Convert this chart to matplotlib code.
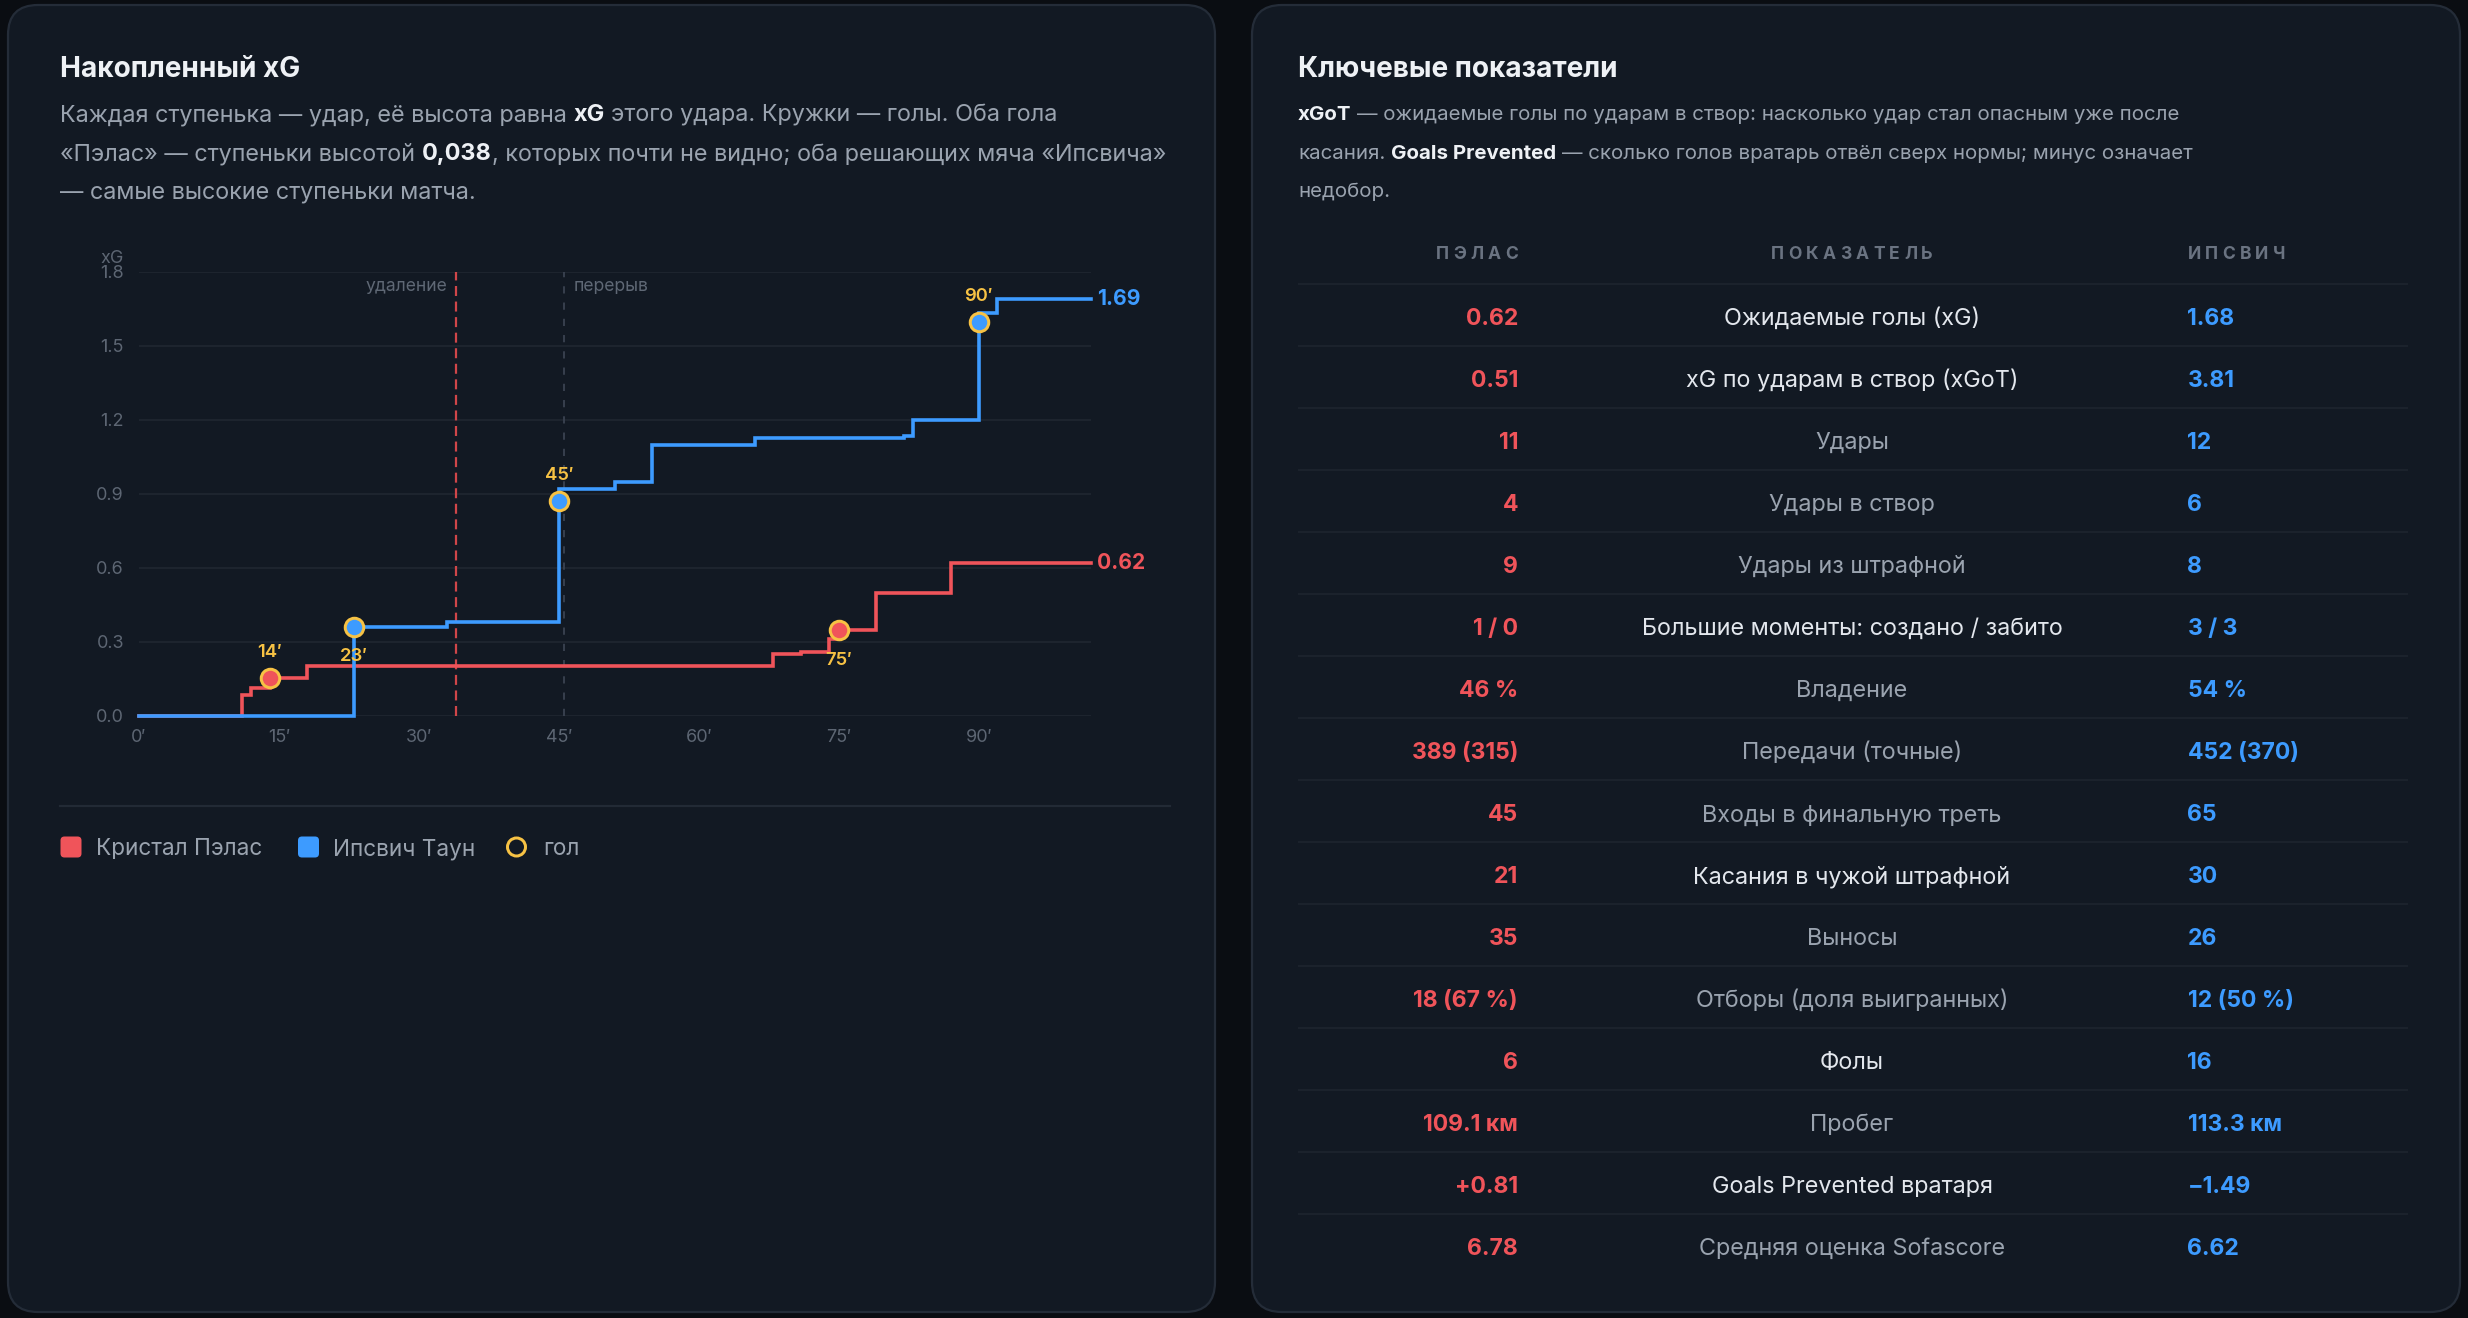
import numpy as np
import matplotlib
matplotlib.use("Agg")
import matplotlib.pyplot as plt
from matplotlib.patches import FancyBboxPatch, Circle

# ---------------- data ----------------
pal_minutes = [11, 12, 14, 18, 68, 71, 74, 75, 79, 87]
pal_xg      = [0.084, 0.029, 0.038, 0.052, 0.049, 0.006, 0.051, 0.038, 0.151, 0.12]
pal_goals   = [2, 7]                      # indices of goal shots
ips_minutes = [23, 33, 45, 45, 51, 55, 66, 82, 83, 90, 90, 92]
ips_xg      = [0.36, 0.02, 0.49, 0.048, 0.031, 0.148, 0.028, 0.008, 0.065, 0.40, 0.033, 0.057]
ips_goals   = [0, 2, 9]
goal_label_above = {("pal", 2): True, ("pal", 7): False,
                    ("ips", 0): False, ("ips", 2): True, ("ips", 9): True}
red_card_min = 34
half_time_min = 45.5
match_end = 102
x_tick_minutes = [0, 15, 30, 45, 60, 75, 90]
y_ticks = [0.0, 0.3, 0.6, 0.9, 1.2, 1.5, 1.8]

stat_labels = ["Ожидаемые голы (xG)", "xG по ударам в створ (xGoT)", "Удары", "Удары в створ",
               "Удары из штрафной", "Большие моменты: создано / забито", "Владение",
               "Передачи (точные)", "Входы в финальную треть", "Касания в чужой штрафной",
               "Выносы", "Отборы (доля выигранных)", "Фолы", "Пробег",
               "Goals Prevented вратаря", "Средняя оценка Sofascore"]
pal_vals = ["0.62", "0.51", "11", "4", "9", "1 / 0", "46 %", "389 (315)", "45", "21", "35",
            "18 (67 %)", "6", "109.1 км", "+0.81", "6.78"]
ips_vals = ["1.68", "3.81", "12", "6", "8", "3 / 3", "54 %", "452 (370)", "65", "30", "26",
            "12 (50 %)", "16", "113.3 км", "−1.49", "6.62"]
stat_bright = [True, True, False, False, False, True, False, False, False, True, False,
               False, True, False, True, False]

# ---------------- style ----------------
FONT = ["Inter", "DejaVu Sans"]
BG = "#0a0d12"
PANEL = "#121923"
PANEL_EDGE = "#242c38"
RED = "#f0545a"
BLUE = "#3d9bff"
GOLD = "#f7c244"
TXT_WHITE = "#eef1f5"
TXT_GRAY = "#9aa3af"
TICK = "#5d6673"
GRID = "#1d242e"

W, H = 2468, 1318
def pt(pxv):
    return pxv * 0.72

fig = plt.figure(figsize=(W / 100, H / 100), dpi=100)
fig.patch.set_facecolor(BG)
ov = fig.add_axes([0, 0, 1, 1], zorder=0)
ov.set_xlim(0, W)
ov.set_ylim(H, 0)
ov.axis("off")
renderer = fig.canvas.get_renderer()

for (x0, x1) in [(8, 1215), (1252, 2460)]:
    ov.add_patch(FancyBboxPatch((x0, 5), x1 - x0, 1307,
                                boxstyle="round,pad=0,rounding_size=30",
                                fc=PANEL, ec=PANEL_EDGE, lw=1.6))

_space_cache = {}
def space_w(size, bold):
    key = (size, bold)
    if key not in _space_cache:
        w = []
        for s in ["x x", "xx"]:
            t = ov.text(0, 0, s, fontsize=pt(size), fontweight="bold" if bold else "normal",
                        family=FONT)
            w.append(t.get_window_extent(renderer).width)
            t.remove()
        _space_cache[key] = w[0] - w[1]
    return _space_cache[key]

def rich(x, yc, segs, size, base=TXT_GRAY, strong=TXT_WHITE):
    yb = yc + 0.36 * size
    for s, b in segs:
        lead = len(s) - len(s.lstrip(" "))
        trail = len(s) - len(s.rstrip(" "))
        core = s.strip(" ")
        x += lead * space_w(size, b)
        t = ov.text(x, yb, core, fontsize=pt(size), fontweight="bold" if b else "normal",
                    color=strong if b else base, family=FONT, ha="left", va="baseline")
        x += t.get_window_extent(renderer).width
        x += trail * space_w(size, b)

def spaced(x, yc, s, size, color, align, spacing):
    yb = yc + 0.36 * size
    widths = []
    for ch in s:
        t = ov.text(0, 0, ch, fontsize=pt(size), fontweight="bold", family=FONT)
        widths.append(t.get_window_extent(renderer).width)
        t.remove()
    total = sum(widths) + spacing * (len(s) - 1)
    if align == "right":
        x = x - total
    elif align == "center":
        x = x - total / 2
    for ch, w in zip(s, widths):
        ov.text(x, yb, ch, fontsize=pt(size), fontweight="bold", color=color,
                family=FONT, ha="left", va="baseline")
        x += w + spacing

# ---------------- left panel header ----------------
ov.text(60, 66.7 + 0.36 * 28, "Накопленный xG", fontsize=pt(28), fontweight="bold",
        color=TXT_WHITE, family=FONT, va="baseline")
SUB_L = 23.4
rich(60, 113, [("Каждая ступенька — удар, её высота равна ", False), ("xG", True),
               (" этого удара. Кружки — голы. Оба гола", False)], SUB_L)
rich(60, 152, [("«Пэлас» — ступеньки высотой ", False), ("0,038", True),
               (", которых почти не видно; оба решающих мяча «Ипсвича»", False)], SUB_L)
rich(60, 190, [("— самые высокие ступеньки матча.", False)], SUB_L)

# ---------------- chart ----------------
ax_l, ax_r, ax_t, ax_b = 139, 1090.7, 271.7, 715.7
ax = fig.add_axes([ax_l / W, 1 - ax_b / H, (ax_r - ax_l) / W, (ax_b - ax_t) / H], zorder=2)
ax.set_facecolor("none")
ax.set_xlim(0, match_end)
ax.set_ylim(0, 1.8)
for sp in ax.spines.values():
    sp.set_visible(False)
for yv in y_ticks:
    ax.axhline(yv, color=GRID, lw=1.5, zorder=1)
ax.set_yticks(y_ticks)
ax.set_yticklabels([f"{v:.1f}" for v in y_ticks])
ax.set_xticks(x_tick_minutes)
ax.set_xticklabels([f"{m}′" for m in x_tick_minutes])
ax.tick_params(length=0, colors=TICK, labelsize=pt(18))
ax.tick_params(axis="y", pad=pt(15))
ax.tick_params(axis="x", pad=pt(13))
for lab in ax.get_xticklabels() + ax.get_yticklabels():
    lab.set_family(FONT)
ov.text(124, 258.3, "xG", fontsize=pt(18), color=TICK, family=FONT, ha="right", va="center")

ax.axvline(red_card_min, color="#d04649", lw=1.6, ls=(0, (4.5, 2.5)), zorder=2)
ax.axvline(half_time_min, color="#3a4351", lw=1.3, ls=(0, (4, 5)), zorder=2)
ax.annotate("удаление", xy=(red_card_min, 1.8), xytext=(-pt(9), -pt(15)),
            textcoords="offset points", ha="right", va="center", color="#5f6875",
            fontsize=pt(17.5), family=FONT)
ax.annotate("перерыв", xy=(half_time_min, 1.8), xytext=(pt(10), -pt(15)),
            textcoords="offset points", ha="left", va="center", color="#5f6875",
            fontsize=pt(17.5), family=FONT)

def draw_team(key, minutes, xg, goals, color):
    cum = np.cumsum(xg)
    xs = np.concatenate([[0], minutes, [match_end]])
    ys = np.concatenate([[0], cum, [cum[-1]]])
    ax.step(xs, ys, where="post", color=color, lw=2.6, zorder=4, clip_on=False,
            solid_joinstyle="miter")
    for gi in goals:
        ax.plot([minutes[gi]], [cum[gi]], "o", ms=pt(18.5), mfc=color, mec=GOLD,
                mew=pt(3), zorder=6, clip_on=False)
        above = goal_label_above[(key, gi)]
        ax.annotate(f"{int(minutes[gi])}′", xy=(minutes[gi], cum[gi]),
                    xytext=(0, pt(25.5) if above else -pt(30)), textcoords="offset points",
                    ha="center", va="center", color=GOLD, fontsize=pt(18.5),
                    fontweight="semibold", family=FONT, zorder=7)
    ax.annotate(f"{cum[-1]:.2f}", xy=(match_end, cum[-1]), xytext=(pt(6), 0),
                textcoords="offset points", ha="left", va="center", color=color,
                fontsize=pt(21), fontweight="bold", family=FONT, annotation_clip=False)

draw_team("pal", pal_minutes, pal_xg, pal_goals, RED)
draw_team("ips", ips_minutes, ips_xg, ips_goals, BLUE)

# separator + legend
ov.plot([60, 1170], [805.5, 805.5], color="#222a35", lw=1.6)
ly = 847
LEG = 22.6
ov.add_patch(FancyBboxPatch((60.5, ly - 10.5), 21, 21, boxstyle="round,pad=0,rounding_size=4",
                            fc=RED, ec="none"))
ov.text(96, ly + 0.36 * LEG, "Кристал Пэлас", fontsize=pt(LEG), color=TXT_GRAY, family=FONT,
        va="baseline")
ov.add_patch(FancyBboxPatch((298, ly - 10.5), 21, 21, boxstyle="round,pad=0,rounding_size=4",
                            fc=BLUE, ec="none"))
ov.text(333, ly + 0.36 * LEG, "Ипсвич Таун", fontsize=pt(LEG), color=TXT_GRAY, family=FONT,
        va="baseline")
ov.add_patch(Circle((516.5, ly), 9, fc="none", ec=GOLD, lw=pt(3)))
ov.text(543, ly + 0.36 * LEG, "гол", fontsize=pt(LEG), color=TXT_GRAY, family=FONT,
        va="baseline")

# ---------------- right panel ----------------
ov.text(1298, 66.7 + 0.36 * 28, "Ключевые показатели", fontsize=pt(28), fontweight="bold",
        color=TXT_WHITE, family=FONT, va="baseline")
SUB_R = 20.5
rich(1298, 113, [("xGoT", True),
                 (" — ожидаемые голы по ударам в створ: насколько удар стал опасным уже после", False)], SUB_R)
rich(1298, 152, [("касания. ", False), ("Goals Prevented", True),
                 (" — сколько голов вратарь отвёл сверх нормы; минус означает", False)], SUB_R)
rich(1298, 190, [("недобор.", False)], SUB_R)

col_pal, col_mid, col_ips = 1518, 1852, 2187.5
hdr_y = 253
spaced(col_pal, hdr_y, "ПЭЛАС", 17.5, "#6a7381", "right", 4.3)
spaced(col_mid, hdr_y, "ПОКАЗАТЕЛЬ", 17.5, "#6a7381", "center", 4.3)
spaced(col_ips, hdr_y, "ИПСВИЧ", 17.5, "#6a7381", "left", 4.3)

row0, row_h = 316.7, 62
for i, (lab, pv, iv, br) in enumerate(zip(stat_labels, pal_vals, ips_vals, stat_bright)):
    yc = row0 + i * row_h
    yl = yc - 32.7
    ov.plot([1298, 2408], [yl, yl], color="#1b222c", lw=1.5, solid_capstyle="butt")
    yb = yc + 0.36 * 23.4
    ov.text(col_pal, yb, pv, fontsize=pt(23), fontweight="bold", color=RED, family=FONT,
            ha="right", va="baseline")
    ov.text(col_mid, yb, lab, fontsize=pt(23.4), color="#e3e7ed" if br else TXT_GRAY,
            family=FONT, ha="center", va="baseline")
    ov.text(col_ips, yb, iv, fontsize=pt(23), fontweight="bold", color=BLUE, family=FONT,
            ha="left", va="baseline")

fig.savefig("out.png", dpi=100, facecolor=BG)
